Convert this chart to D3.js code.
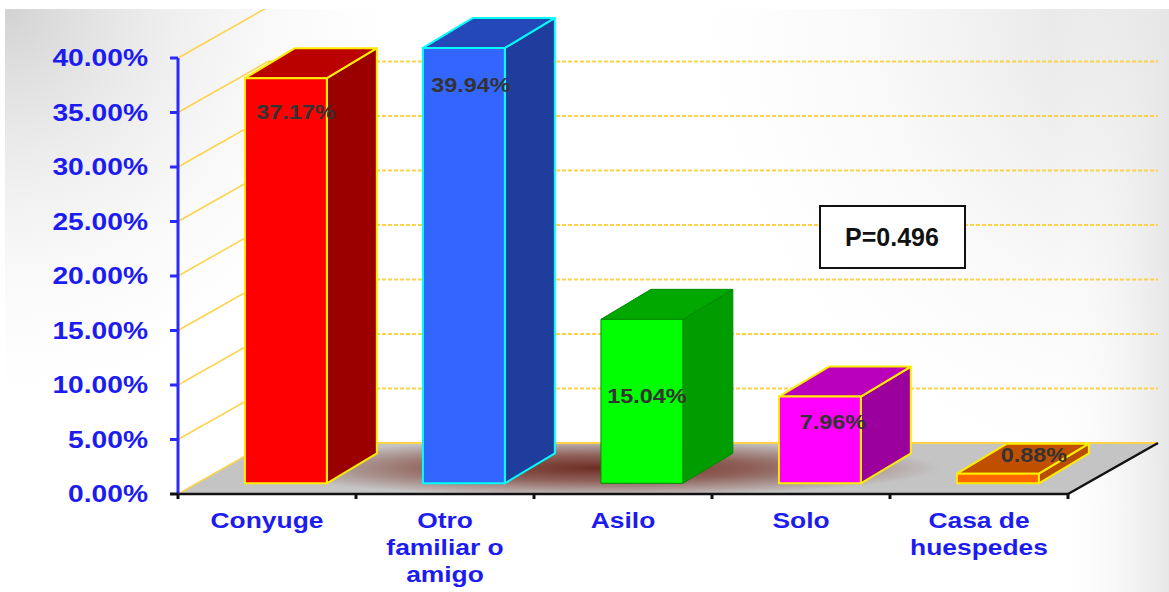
<!DOCTYPE html>
<html><head><meta charset="utf-8">
<script src="https://cdn.jsdelivr.net/npm/d3@7"></script>
<style>html,body{margin:0;padding:0;background:#fff;}svg{display:block;}</style>
</head><body>
<svg id="chart" width="1169" height="592"></svg>
<script>
// ---- data ----
const categories = ["Conyuge", "Otro familiar o amigo", "Asilo", "Solo", "Casa de huespedes"];
const categoryLines = [["Conyuge"], ["Otro", "familiar o", "amigo"], ["Asilo"], ["Solo"], ["Casa de", "huespedes"]];
const values = [37.17, 39.94, 15.04, 7.96, 0.88];
const valueLabels = ["37.17%", "39.94%", "15.04%", "7.96%", "0.88%"];
const yTicks = [0, 5, 10, 15, 20, 25, 30, 35, 40];
const pText = "P=0.496";

// ---- styles ----
const frontColors = ["#ff0000", "#3366ff", "#00ff00", "#ff00ff", "#ff6600"];
const topColors   = ["#bb0000", "#2448b8", "#00a800", "#bb00bb", "#c05000"];
const sideColors  = ["#9a0000", "#1f3d9c", "#009c00", "#9c009c", "#b84c00"];
const edgeColors  = ["#ffee00", "#00ffff", "#008a00", "#ffee00", "#ffee00"];
const edgeWidths  = [2, 2, 1, 2, 2];
const labelOffsets = [[10, 35], [7, 38], [5, 77], [13, 26], [36, -18]];

const svg = d3.select("#chart");
const W = 1169, H = 592;
const X0 = 178, X1 = 1068, Y0 = 494, Y1 = 58;
const DX = 90, DY = 51;          // floor depth offset
const f0 = 0.21;                  // bar front depth fraction
const BDX = 50, BDY = 30;         // bar depth
const SX = 1.2;                   // horizontal text stretch

const defs = svg.append("defs");
const g1 = defs.append("radialGradient").attr("id", "bgTL").attr("gradientUnits", "userSpaceOnUse")
  .attr("cx", 5).attr("cy", 9).attr("r", 420);
g1.append("stop").attr("offset", 0).attr("stop-color", "#d2d2d2").attr("stop-opacity", 1);
g1.append("stop").attr("offset", 1).attr("stop-color", "#ffffff").attr("stop-opacity", 0);
const g2 = defs.append("radialGradient").attr("id", "bgTR").attr("gradientUnits", "userSpaceOnUse")
  .attr("cx", 1169).attr("cy", 9).attr("r", 520);
g2.append("stop").attr("offset", 0).attr("stop-color", "#dcdcdc").attr("stop-opacity", 1);
g2.append("stop").attr("offset", 1).attr("stop-color", "#ffffff").attr("stop-opacity", 0);
const g3 = defs.append("linearGradient").attr("id", "bgR").attr("x1", 0).attr("x2", 1).attr("y1", 0).attr("y2", 0);
g3.append("stop").attr("offset", 0.9).attr("stop-color", "#ffffff").attr("stop-opacity", 0);
g3.append("stop").attr("offset", 1).attr("stop-color", "#e6e6e6").attr("stop-opacity", 1);
const fl = defs.append("radialGradient").attr("id", "floorShadow").attr("gradientUnits", "userSpaceOnUse")
  .attr("cx", 0).attr("cy", 0).attr("r", 1)
  .attr("gradientTransform", "translate(600,468) scale(340,28)");
fl.append("stop").attr("offset", 0).attr("stop-color", "#6e2e24");
fl.append("stop").attr("offset", 0.45).attr("stop-color", "#8f6058");
fl.append("stop").attr("offset", 1).attr("stop-color", "#c4c4c4");
defs.append("clipPath").attr("id", "clipTop").append("rect").attr("x", 0).attr("y", 9).attr("width", W).attr("height", H);

// background
svg.append("rect").attr("width", W).attr("height", H).attr("fill", "#fff");
svg.append("rect").attr("x", 5).attr("y", 9).attr("width", W - 5).attr("height", H - 9).attr("fill", "url(#bgTL)");
svg.append("rect").attr("x", 5).attr("y", 9).attr("width", W - 5).attr("height", H - 9).attr("fill", "url(#bgTR)");
svg.append("rect").attr("x", 5).attr("y", 9).attr("width", W - 5).attr("height", H - 9).attr("fill", "url(#bgR)");

// scales
const x = d3.scaleBand().domain(categories).range([X0, X1]).padding(0);
const y = d3.scaleLinear().domain([0, 40]).range([Y0, Y1]);
const barW = x.bandwidth() * 0.46;

const chart = svg.append("g").attr("clip-path", "url(#clipTop)");

// floor
chart.append("polygon")
  .attr("points", [[X0, Y0], [X1, Y0], [X1 + DX, Y0 - DY], [X0 + DX, Y0 - DY]].map(p => p.join(",")).join(" "))
  .attr("fill", "url(#floorShadow)");

// grid: left wall diagonals + back wall dashed lines
const grid = chart.append("g");
grid.selectAll("line.diag").data(yTicks).join("line").attr("class", "diag")
  .attr("x1", X0).attr("y1", d => y(d)).attr("x2", X0 + DX).attr("y2", d => y(d) - DY)
  .attr("stroke", "#ffd24a").attr("stroke-width", 1.5);
grid.selectAll("line.back").data(yTicks).join("line").attr("class", "back")
  .attr("x1", X0 + DX).attr("y1", d => y(d) - DY).attr("x2", X1 + DX).attr("y2", d => y(d) - DY)
  .attr("stroke", "#ffd24a").attr("stroke-width", 2)
  .attr("stroke-dasharray", d => d === 0 ? null : "4,2");

// axes lines
const ax = svg.append("g");
ax.append("line").attr("x1", X0).attr("y1", Y0).attr("x2", X1).attr("y2", Y0).attr("stroke", "#111").attr("stroke-width", 2.5);
ax.append("line").attr("x1", X1).attr("y1", Y0).attr("x2", X1 + DX).attr("y2", Y0 - DY).attr("stroke", "#111").attr("stroke-width", 2.5);
const xTickPos = categories.map(c => x(c)).concat([X1]);
ax.selectAll("line.xt").data(xTickPos).join("line").attr("class", "xt")
  .attr("x1", d => d).attr("x2", d => d).attr("y1", Y0).attr("y2", Y0 + 5)
  .attr("stroke", "#111").attr("stroke-width", 3);

// bars
const bars = svg.append("g");
categories.forEach((c, i) => {
  const cx = x(c) + x.bandwidth() / 2 + f0 * DX;
  const xl = cx - barW / 2, xr = cx + barW / 2;
  const yb = y(0) - f0 * DY, yt = y(values[i]) - f0 * DY;
  const g = bars.append("g").attr("stroke", edgeColors[i]).attr("stroke-width", edgeWidths[i]).attr("stroke-linejoin", "round");
  g.append("polygon").attr("points", [[xr, yb], [xr + BDX, yb - BDY], [xr + BDX, yt - BDY], [xr, yt]].map(p => p.join(",")).join(" "))
    .attr("fill", sideColors[i]);
  g.append("polygon").attr("points", [[xl, yt], [xr, yt], [xr + BDX, yt - BDY], [xl + BDX, yt - BDY]].map(p => p.join(",")).join(" "))
    .attr("fill", topColors[i]);
  g.append("rect").attr("x", xl).attr("y", yt).attr("width", barW).attr("height", yb - yt).attr("fill", frontColors[i]);
  // value label
  svg.append("text")
    .attr("transform", `translate(${cx + labelOffsets[i][0]},${yt + labelOffsets[i][1]}) scale(${SX},1)`)
    .attr("text-anchor", "middle").attr("dominant-baseline", "central")
    .attr("font-family", "Liberation Sans, Arial, sans-serif").attr("font-weight", "bold").attr("font-size", 19.5)
    .attr("fill", "#333333").text(valueLabels[i]);
});

// y axis
const yAx = svg.append("g");
yAx.append("line").attr("x1", X0).attr("x2", X0).attr("y1", Y1).attr("y2", Y0).attr("stroke", "#2a2aff").attr("stroke-width", 3);
yAx.selectAll("line.yt").data(yTicks).join("line").attr("class", "yt")
  .attr("x1", X0 - 8).attr("x2", X0).attr("y1", d => y(d)).attr("y2", d => y(d))
  .attr("stroke", d => d === 0 ? "#111" : "#2a2aff").attr("stroke-width", 3);
yAx.selectAll("text").data(yTicks).join("text")
  .attr("transform", d => `translate(148,${y(d)}) scale(${SX},1)`)
  .attr("text-anchor", "end").attr("dominant-baseline", "central")
  .attr("font-family", "Liberation Sans, Arial, sans-serif").attr("font-weight", "bold").attr("font-size", 23.5)
  .attr("fill", "#1c1cf0").text(d => d3.format(".2f")(d) + "%");

// category labels
const cl = svg.append("g");
categories.forEach((c, i) => {
  categoryLines[i].forEach((ln, j) => {
    cl.append("text")
      .attr("transform", `translate(${x(c) + x.bandwidth() / 2},${520 + j * 27}) scale(${SX},1)`)
      .attr("text-anchor", "middle").attr("dominant-baseline", "central")
      .attr("font-family", "Liberation Sans, Arial, sans-serif").attr("font-weight", "bold").attr("font-size", 22)
      .attr("fill", "#1c1cf0").text(ln);
  });
});

// P box
svg.append("rect").attr("x", 820).attr("y", 206).attr("width", 145).attr("height", 62)
  .attr("fill", "#fff").attr("stroke", "#111").attr("stroke-width", 2);
svg.append("text").attr("x", 892).attr("y", 237).attr("text-anchor", "middle").attr("dominant-baseline", "central")
  .attr("font-family", "Liberation Sans, Arial, sans-serif").attr("font-weight", "bold").attr("font-size", 25)
  .attr("fill", "#111").text(pText);
</script>
</body></html>
